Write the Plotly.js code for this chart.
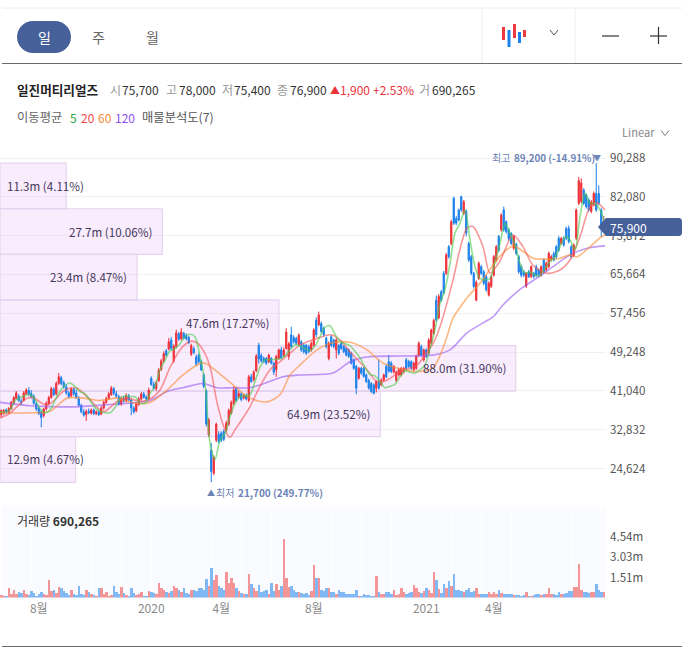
<!DOCTYPE html>
<html><head><meta charset="utf-8">
<script src="https://cdn.plot.ly/plotly-3.0.1.min.js"></script>
<style>html,body{margin:0;padding:0;background:#fff}#c{width:692px;height:649px}</style>
</head><body><div id="c"></div>
<script>
// Daily price, thousand won
const opens=[36.0,36.3,37.0,36.5,37.2,38.4,39.4,39.9,38.9,39.0,
40.4,41.1,40.5,39.9,38.3,37.4,36.6,35.8,37.2,38.3,
39.6,41.4,40.4,42.6,43.8,42.8,41.9,40.6,40.0,41.4,
40.6,39.4,38.0,36.6,36.0,36.7,36.3,37.0,36.2,36.6,
36.1,37.4,38.6,39.4,40.2,41.5,40.4,39.8,38.2,39.5,
38.9,40.0,39.1,37.4,36.8,38.1,39.3,40.4,39.7,39.4,
43.7,42.4,41.5,43.2,45.6,47.4,49.5,49.9,51.8,47.4,
50.4,53.1,52.0,53.2,52.7,52.3,48.8,50.0,48.2,48.6,
47.2,44.4,41.0,31.7,28.5,23.6,30.6,31.8,32.1,32.4,
32.6,34.0,36.3,38.4,41.6,39.8,40.4,39.6,40.0,39.0,
44.0,43.4,45.3,50.7,48.5,47.9,47.9,47.2,47.9,46.9,
45.5,47.9,49.7,48.5,50.0,48.3,52.9,52.3,52.1,50.8,
51.4,50.7,50.7,50.4,49.7,50.7,56.0,55.0,55.3,54.3,
52.2,47.9,52.5,51.8,49.7,50.7,51.1,50.4,50.0,49.7,
49.0,47.6,46.2,43.7,45.8,45.8,44.4,43.3,42.6,42.3,
41.6,43.0,42.3,43.3,46.2,47.2,46.9,45.0,43.3,44.4,
44.4,45.0,47.6,47.2,47.2,45.5,45.8,48.6,50.4,47.6,
49.7,49.0,51.1,53.2,60.2,56.5,62.0,65.9,65.9,71.5,
72.2,81.8,77.5,79.3,82.1,78.6,79.0,72.2,69.4,65.9,
60.2,64.8,67.3,66.2,65.2,61.3,63.1,65.5,68.7,73.7,
75.1,79.3,76.8,75.1,74.3,71.2,72.0,69.4,67.3,66.2,
63.2,66.2,65.2,65.9,67.3,66.6,65.5,68.7,66.6,67.3,
68.7,70.1,71.5,73.3,72.2,73.3,75.4,75.4,71.5,69.7,
73.3,80.7,81.1,83.5,82.5,81.4,79.0,80.4,82.8,82.8,
79.3,75.7];
const closes=[36.9,36.9,36.4,37.3,38.6,39.6,40.6,39.0,38.5,40.6,
41.2,40.3,39.8,38.4,37.2,36.2,35.4,37.2,38.4,39.6,
41.5,40.2,42.6,44.0,42.6,41.9,40.6,39.8,41.4,40.4,
39.6,38.0,36.6,35.9,36.7,36.4,37.0,36.2,36.6,36.0,
37.4,38.6,39.4,40.4,41.6,40.5,39.9,38.2,39.5,38.9,
40.0,39.1,37.4,36.6,38.2,39.3,40.4,39.7,39.3,41.2,
42.4,41.6,42.8,45.4,47.4,48.9,48.6,51.4,50.0,50.5,
53.3,52.0,53.5,52.2,52.1,51.2,50.6,49.1,46.7,47.2,
45.5,42.0,34.0,34.9,24.0,27.0,34.0,30.3,30.6,30.8,
34.2,36.9,38.6,41.2,39.0,40.5,39.2,40.0,39.3,44.0,
43.0,45.0,48.4,47.8,47.4,47.2,46.9,48.6,46.9,45.0,
48.3,49.7,48.0,49.7,53.5,51.0,50.4,51.4,51.1,52.8,
49.7,49.3,49.0,49.3,51.1,53.9,52.9,57.1,53.6,52.9,
50.4,51.1,50.7,50.4,51.8,49.0,50.0,49.3,48.6,48.3,
46.9,45.8,41.6,45.8,44.8,44.1,43.0,41.6,40.9,40.5,
43.0,41.6,43.3,44.4,44.0,45.2,45.1,46.2,45.0,45.5,
45.8,45.8,45.8,46.2,45.8,46.9,48.3,51.1,48.6,49.7,
48.3,51.8,53.9,55.9,56.0,61.0,60.2,61.8,69.8,69.4,
76.8,76.5,76.5,77.2,79.3,81.0,74.4,68.7,65.9,63.1,
64.0,68.0,65.9,63.8,62.4,63.8,65.2,69.4,71.5,70.8,
78.2,75.1,74.7,73.2,72.2,73.7,70.1,66.2,65.5,65.5,
65.9,65.2,67.3,65.2,65.5,65.5,67.3,66.2,68.0,70.1,
69.4,68.7,69.4,70.8,73.3,71.9,73.3,72.6,69.4,71.9,
79.3,85.5,85.0,80.7,80.0,79.3,81.0,82.8,79.3,80.7,
75.8,76.9];
const highs=[37.1,37.2,37.3,37.6,38.9,39.9,41.0,40.3,39.4,41.0,
41.6,41.8,41.2,40.3,38.7,37.8,37.0,37.5,38.8,40.0,
41.9,41.8,43.0,44.8,44.2,43.2,42.4,41.0,41.8,41.7,
41.3,39.9,38.3,37.2,37.1,37.3,37.3,37.3,36.9,36.9,
37.8,38.9,39.8,40.8,42.1,41.9,41.0,40.2,39.9,39.9,
40.5,40.4,39.4,37.8,38.6,39.8,40.8,40.8,40.1,41.7,
44.1,43.0,43.2,45.9,47.8,49.4,49.9,52.2,52.4,50.9,
54.0,53.5,54.3,53.5,53.2,52.7,51.0,50.4,48.7,49.0,
47.6,44.8,41.4,35.3,30.0,27.4,34.3,32.5,32.5,32.9,
34.7,37.3,39.0,42.0,41.9,41.0,40.8,40.4,40.5,44.4,
44.6,45.4,48.8,51.2,49.0,48.3,48.2,48.9,48.2,47.2,
48.7,50.0,50.3,50.2,54.3,51.4,54.6,52.8,52.5,53.2,
51.8,51.1,51.0,50.8,51.5,54.3,56.6,57.8,55.7,54.6,
52.5,51.5,52.8,52.1,52.2,51.0,51.4,50.7,50.3,50.0,
49.3,47.9,46.5,46.1,46.1,46.1,44.7,43.6,42.9,42.6,
43.3,47.7,43.7,44.7,46.6,48.6,47.3,46.5,45.3,45.9,
46.1,46.1,48.0,47.6,47.5,47.2,48.7,51.5,50.8,50.0,
50.0,52.2,54.2,56.3,61.2,61.5,62.4,66.4,70.2,71.9,
77.2,82.1,78.0,79.6,82.3,81.4,79.4,72.6,69.8,66.2,
64.4,68.4,67.7,66.6,65.6,64.2,65.6,69.8,71.9,74.0,
78.6,80.0,77.1,75.5,74.6,74.0,72.4,69.8,67.7,66.6,
66.2,66.6,67.6,66.2,67.7,66.9,67.6,69.0,68.4,70.5,
69.8,70.5,71.9,73.8,73.6,73.7,75.8,76.0,71.9,72.2,
79.6,86.3,86.0,83.9,82.8,81.8,81.4,83.2,89.2,84.5,
79.7,78.0];
const lows=[35.4,36.0,36.2,36.2,37.0,38.1,39.2,38.7,38.0,38.8,
40.2,40.0,39.4,38.1,36.8,35.9,33.3,35.4,36.9,38.0,
39.4,39.9,40.1,42.3,42.2,41.5,40.2,39.4,39.7,40.0,
39.3,37.7,36.3,35.6,34.7,36.1,36.0,35.9,35.9,35.7,
35.9,37.1,38.3,39.1,40.0,40.1,39.5,37.9,37.9,38.5,
38.6,38.9,35.9,36.2,36.5,37.9,39.0,39.4,39.0,39.0,
42.1,41.2,41.0,42.9,45.2,47.0,48.2,49.6,49.6,46.9,
50.0,51.6,51.7,51.9,51.7,50.9,48.4,48.8,46.3,46.8,
45.2,41.6,33.5,31.3,21.7,23.2,30.2,29.9,30.2,30.4,
32.3,33.6,36.0,38.0,38.7,39.4,38.8,39.2,39.0,38.6,
42.7,43.0,45.0,46.8,47.0,46.9,46.5,46.9,46.6,44.4,
44.0,47.6,47.7,48.2,49.8,47.6,50.0,51.0,50.8,50.5,
49.3,48.9,48.6,49.0,49.3,50.4,52.4,54.7,53.2,52.5,
50.0,47.5,50.3,50.0,47.9,48.6,49.7,49.0,48.3,48.0,
46.6,45.5,40.3,43.4,44.4,43.8,42.7,41.3,40.6,40.3,
40.7,41.3,42.0,43.0,43.7,44.9,44.8,44.7,42.9,44.1,
44.1,44.7,45.5,45.9,45.5,45.2,45.5,48.3,48.3,47.2,
48.0,48.7,50.8,52.9,55.6,56.2,59.8,61.4,65.5,69.0,
71.8,76.1,76.1,76.9,78.9,78.2,73.7,68.3,65.5,62.7,
60.0,64.5,65.5,63.4,62.0,61.0,62.8,65.2,68.3,70.4,
74.7,74.7,74.3,72.8,71.9,70.8,69.7,65.8,65.0,65.1,
62.8,64.9,64.9,64.8,65.1,65.1,65.2,65.9,66.3,67.0,
68.4,68.4,69.0,70.4,71.9,71.5,72.9,72.2,69.0,69.3,
72.9,80.3,80.7,80.3,79.6,78.9,78.6,80.0,78.9,80.3,
73.6,75.4];
// Volume, millions
const volumes=[.2,.15,.12,.7,.3,.6,.3,.4,.35,.55,
.25,.18,.5,.35,.15,.3,.42,.25,.2,1.3,
.5,.55,.35,.8,.7,.5,.35,.2,.55,.3,
.2,.9,.25,.2,.55,.4,.25,.18,.15,.7,
.7,.3,.4,.15,.2,.85,.45,.3,.8,.35,
.2,.15,.75,.35,.2,.3,.42,.15,.1,.5,
.45,.35,.25,1.1,.75,.55,.4,.35,.5,.85,
.75,.55,.45,.7,.35,.3,.55,.6,.5,.7,
.7,.55,1.4,.9,2.2,1.3,1.7,.9,.7,.6,
1.9,1.1,1.5,1.1,.7,.5,.35,.3,.3,1.8,
1.0,.75,.5,.95,.4,.5,.6,.3,1.1,.5,
1.05,.6,.85,4.45,1.5,.8,.85,.6,.45,.4,
.35,.3,.35,.2,.5,2.45,1.5,1.5,.6,.5,
.7,.7,.4,.45,.25,.6,.4,.4,.25,.3,
.25,.3,.55,.15,.1,.25,.2,.2,.15,.15,
1.6,.4,.3,.3,.45,.4,.3,.6,.2,.25,
.7,.4,.3,.35,.4,.95,.7,.4,.35,.5,
.75,.55,.35,1.9,1.3,.65,.35,1.0,.75,1.25,
.9,1.8,.6,.55,.5,.45,.6,.75,.4,.5,
.75,.3,.25,.25,.3,.4,.25,.4,.3,.6,
.35,.3,.25,.25,.3,.2,.2,.2,.15,.2,
.4,.15,.15,.2,.25,.25,.2,.25,.3,.7,
.25,.25,.2,.45,.3,.25,.35,.5,.5,.8,
.8,2.5,.6,.45,.4,.35,.4,.45,1.0,.55,
.4,.45];
// Moving averages: 5-day sampled every second session
const ma5=[36.6,36.6,37,39,39.6,40,40.3,39.2,37.3,36.4,37,39,41,42.2,42.7,42,40.9,40.4,39,37.5,36.7,36.4,36.4,37.5,39.4,40,39.8,39.8,38.5,38.4,
40.5,42,45.5,47.5,49.5,50,51,52.5,53,52.5,48.3,42.6,30,26.5,30.6,32,35.6,38.4,39.8,40,40.2,43,46,47.6,47.6,47.7,47.8,48.5,49.7,50.8,
50.5,50,49.5,50.5,52.5,54.5,54.8,53,51.5,51,50.6,49.4,48,46,44.5,44.2,43,41.7,42,42.4,44,45.3,45,44.8,45.5,46.5,50,54,59.5,
62.4,68,74.4,76.5,79.3,73,67.3,64.8,64.5,64.8,68.3,72.2,76.5,74.4,71.9,68,
65.9,66.2,65.5,65.5,67,68.4,69.4,71.5,73.6,73,70.8,77.9,82.8,80.7,80.7,79.3,76.5];
const ma20Session=[-.5,3.5,6.3,10.3,12.7,16.3,18.3,20.7,24.7,27.5,30.3,34.3,39.5,41.5,46.3,50.3,55.5,59.5,63.5,67.5,71.5,75.5,78.3,80.7,83.5,86.3,89.5,91.5,93.5,96.7,99.5,103.5,107.5,111.5,115.5,119.5,125.5,131.9,135.5,139.5,146.3,150.3,154.3,159.5,166.3,170.3,172.7,175.5,180.7,183.5,186.3,188.7,192.7,195.5,199.5,204.7,208.7,212.7,218.3,223.5,227.5,231.5,235.5,238.3,241.5];
const ma20=[35.3,36.3,37.7,39.5,39.6,38.4,38,38.8,40.9,41.6,41.6,39.85,37,36.7,38.8,39.5,38.8,39.3,41.2,46,49.7,51.5,51.2,49.7,46.2,38.6,32.8,31.2,32.8,35.3,37.7,42,45.5,47.2,49,50.7,52,52.9,51.8,49.3,45.5,43,43.3,45.1,46.5,49.2,51,54.6,64.5,71,75.5,75.8,71.5,65.9,68.5,74,71.5,67.6,65.9,66.6,68.7,73.6,80,80.8,79.3];
const ma60Session=[-.5,12.7,19.5,26.3,32.7,39.5,46.3,52.7,59.5,66.3,72.7,80.7,86.3,92.7,99.5,106.3,111.5,115.5,119.5,126.3,132.7,139.5,146.3,152.7,159.5,166.3,172.7,175.5,178.3,180.7,186.3,191.5,196.7,200.7,204.7,207.5,212.7,216.7,223.5,227.5,230.3,235.5,239.5,241.5];
const ma60=[36.4,36.4,36.7,39.5,39.5,39,39.5,38.5,38.6,41.2,44.4,47,45.1,42.3,39.5,38.7,40.2,44.4,46.5,49.7,51.2,51.3,49.7,46.9,45.7,45.1,45.9,48.5,52.5,56.4,60.7,63.8,67.6,70.2,71.7,71,69.1,68.9,69.1,69.8,69.4,71.5,73.4,74];
const ma120Session=[-.5,11.5,19.5,31.5,39.5,59.5,66.3,72.7,80.7,86.3,92.7,99.5,106.3,112.7,119.5,132.7,139.5,146.3,159.5,172.7,179.5,186.3,192.7,196.7,200.7,207.5,214.3,220.7,227.5,234.3,241.5];
const ma120=[38.6,37.9,37.7,37.7,38,39,40.9,41.7,42.6,41.7,41.7,41.7,42.8,44,44.4,44.8,47.2,48.2,48.4,48.6,49.7,53.3,55.4,56.7,59.2,62.5,64.9,67.3,69.8,71.2,71.7];
// Volume-at-price profile
const profilePrice=[84.38,74.73,65.09,55.45,45.8,36.16,26.52];
const profileVol=[11.3,27.7,23.4,47.6,88.0,64.9,12.9];
const profileLabels=['11.3m (4.11%)','27.7m (10.06%)','23.4m (8.47%)','47.6m (17.27%)','88.0m (31.90%)','64.9m (23.52%)','12.9m (4.67%)'];
const priceTicks=[90.288,82.08,73.872,65.664,57.456,49.248,41.04,32.832,24.624];
const priceTickText=['90,288','82,080','73,872','65,664','57,456','49,248','41,040','32,832','24,624'];
const volTicks=[1.51,3.03,4.54];
const volTickText=['1.51m','3.03m','4.54m'];
const timeTicks=[15,60,88,125,170,197];
const timeTickText=['8월','2020','4월','8월','2021','4월'];

const W=692,H=649,F='"Noto Sans CJK KR","Noto Sans",sans-serif';
const session=closes.map((_,i)=>i);
const PX=x=>x/W, PY=y=>1-y/H;
const domX=[0,606/W];
const maLine=(name,x,y,color)=>({type:'scatter',mode:'lines',name,x,y,xaxis:'x2',yaxis:'y',
  line:{color,width:1.6,shape:'spline',smoothing:0.8},opacity:0.62,hoverinfo:'skip'});
const traces=[
 {type:'bar',orientation:'h',x:profileVol,y:profilePrice,width:9.643,xaxis:'x',yaxis:'y',
  marker:{color:'rgba(208,130,240,0.15)',line:{color:'#e6d4ef',width:1.2}},hoverinfo:'skip'},
 {type:'candlestick',x:session,open:opens,high:highs,low:lows,close:closes,xaxis:'x2',yaxis:'y',
  whiskerwidth:0,
  increasing:{line:{color:'#ee2f38',width:1},fillcolor:'#ee2f38'},
  decreasing:{line:{color:'#1b80ea',width:1},fillcolor:'#1b80ea'},hoverinfo:'skip'},
 maLine('MA120',ma120Session,ma120,'#9a5cf0'),
 maLine('MA60',ma60Session,ma60,'#fb8c32'),
 maLine('MA20',ma20Session,ma20,'#f5585a'),
 maLine('MA5',ma5.map((_,k)=>k*2-0.5),ma5,'#4ecb4e'),
 {type:'bar',x:session,y:volumes,xaxis:'x3',yaxis:'y2',
  marker:{color:closes.map((c,i)=>c>=opens[i]?'#f39597':'#80b8f6'),line:{width:0}},hoverinfo:'skip'}
];
const rect=(x0,y0,x1,y1,fill,layer)=>({type:'rect',xref:'paper',yref:'paper',x0:PX(x0),x1:PX(x1),y0:PY(y0),y1:PY(y1),fillcolor:fill,line:{width:0},layer:layer||'below'});
const seg=(x0,y0,x1,y1,color,w)=>({type:'line',xref:'paper',yref:'paper',x0:PX(x0),x1:PX(x1),y0:PY(y0),y1:PY(y1),line:{color,width:w||1},layer:'above'});
const P=(x,y)=>PX(x)+','+PY(y);
const pathShape=(d,fill,layer)=>({type:'path',xref:'paper',yref:'paper',path:d,fillcolor:fill,line:{width:0},layer:layer||'above'});
const rr=(x0,y0,x1,y1,r)=>{const k=r*0.45;return 'M'+P(x0+r,y0)+' L'+P(x1-r,y0)+' C'+P(x1-k,y0)+' '+P(x1,y0+k)+' '+P(x1,y0+r)+' L'+P(x1,y1-r)+' C'+P(x1,y1-k)+' '+P(x1-k,y1)+' '+P(x1-r,y1)+' L'+P(x0+r,y1)+' C'+P(x0+k,y1)+' '+P(x0,y1-k)+' '+P(x0,y1-r)+' L'+P(x0,y0+r)+' C'+P(x0,y0+k)+' '+P(x0+k,y0)+' '+P(x0+r,y0)+' Z';};
const chev=(cx,cy,s,color)=>[seg(cx-s,cy-s/1.6,cx,cy+s/1.6,color,1),seg(cx,cy+s/1.6,cx+s,cy-s/1.6,color,1)];
const shapes=[
 rect(2,507,606,598,'#f9fbff'),
 seg(2,8,682,8,'#ececec',1),
 seg(2,63.5,682,63.5,'#656c74',1.2),
 seg(2,646.5,682,646.5,'#656c74',1.2),
 seg(482,9,482,63,'#eeeeee',1),
 seg(575,9,575,63,'#eeeeee',1),
 pathShape(rr(17,21,71,53,16),'#46609a'),
 rect(502,27,505,40,'#ee3a3f','above'),
 rect(507.5,30,510.5,47,'#1b80ea','above'),
 rect(513,24,516,38,'#ee3a3f','above'),
 rect(518,32,521,43,'#1b80ea','above'),
 rect(523,30,526,37,'#ee3a3f','above'),
 ...chev(554,32.5,4,'#555'),
 seg(602,36,619,36,'#333',1.2),
 seg(650,36,667,36,'#333',1.2),
 seg(658.5,27,658.5,44,'#333',1.2),
 ...chev(665,133,4,'#777'),
 pathShape('M'+P(598,227)+' L'+P(606,218)+' L'+P(678,218)+' C'+P(681,218)+' '+P(682,219)+' '+P(682,222)+' L'+P(682,232)+' C'+P(682,235)+' '+P(681,236)+' '+P(678,236)+' L'+P(606,236)+' Z','#46609a')
];
const T=(x,y,text,color,size,anchor,extra)=>Object.assign({xref:'paper',yref:'paper',x:PX(x),y:PY(y),text,showarrow:false,xanchor:anchor||'left',yanchor:'middle',align:'left',
  font:{family:F,size:size||12,color:color||'#333'}},extra||{});
const ann=[
 T(44,37,'일','#fff',14,'center'),T(98,37,'주','#666',14,'center'),T(152,37,'월','#666',14,'center'),
 T(15,89,'<b>일진머티리얼즈</b>','#222',12.6),
 T(108,89,'시','#999',12),T(120,89,'75,700','#333',12),
 T(164,89,'고','#999',12),T(177,89,'78,000','#333',12),
 T(220,89,'저','#999',12),T(232,89,'75,400','#333',12),
 T(275,89,'종','#999',12),T(288,89,'76,900','#333',12),
 T(328,89,'▲','#e8323a',10),T(338,89,'1,900','#e8323a',12),T(371,89,'+2.53%','#e8323a',12),
 T(417,89,'거','#999',12),T(430,89,'690,265','#333',12),
 T(15,117,'이동평균','#666',12.3),T(68,117,'5','#22a83a',12),T(79,117,'20','#f4474a',12),T(96,117,'60','#f78a36',12),T(113,117,'120','#8d4df0',12),
 T(140,117,'매물분석도(7)','#555',12.3),
 T(620,132,'Linear','#888',11.2),
 T(490,158,'최고','#6d83b6',10),T(512,158,'<b>89,200 (-14.91%)</b>','#6d83b6',9.8),T(591,157.5,'▼','#6d83b6',8),
 T(205,492,'▲','#6d83b6',8),T(214,492,'최저','#6d83b6',10),T(236,492,'<b>21,700 (249.77%)</b>','#6d83b6',10),
 T(15,520,'거래량 <b>690,265</b>','#333',12),
 T(608,227,'75,900','#fff',12)
];
const profileMinLeft=[true,false,false,false,false,false,true];
profileVol.forEach((v,i)=>{
  const base={yref:'y',y:profilePrice[i],text:profileLabels[i],showarrow:false,yanchor:'middle',font:{family:F,size:11.6,color:'#45365c'}};
  if(profileMinLeft[i]) ann.push(Object.assign(base,{xref:'paper',x:PX(5),xanchor:'left'}));
  else ann.push(Object.assign(base,{xref:'x',x:v,xshift:-8,xanchor:'right'}));
});
const layout={width:W,height:H,margin:{l:0,r:0,t:0,b:0},paper_bgcolor:'#fff',plot_bgcolor:'rgba(0,0,0,0)',showlegend:false,
 barmode:'overlay',bargap:0,font:{family:F,size:12},
 xaxis:{domain:domX,range:[0,606/5.86],visible:false,fixedrange:true,anchor:'y'},
 xaxis2:{domain:domX,range:[-0.5,241.9],overlaying:'x',visible:false,fixedrange:true,anchor:'y',rangeslider:{visible:false}},
 xaxis3:{domain:domX,range:[-0.5,241.9],anchor:'y2',tickmode:'array',tickvals:timeTicks,ticktext:timeTickText,
   tickfont:{family:F,size:12,color:'#8a8a8a'},ticks:'',showgrid:false,zeroline:false,showline:false,fixedrange:true,ticklabelstandoff:2,
   minor:{dtick:12,showgrid:true,gridcolor:'#ffffff',gridwidth:1.5,ticks:''}},
 yaxis:{domain:[PY(500),PY(150)],range:[17.95,91.98],side:'right',anchor:'x',tickmode:'array',tickvals:priceTicks,ticktext:priceTickText,
   tickfont:{family:F,size:11.6,color:'#555'},gridcolor:'#f1f1f1',gridwidth:1,zeroline:false,showline:false,ticks:'',fixedrange:true,ticklabelstandoff:3},
 yaxis2:{domain:[PY(597.5),PY(507)],range:[0,6.83],side:'right',anchor:'x3',tickmode:'array',tickvals:volTicks,ticktext:volTickText,
   tickfont:{family:F,size:11.6,color:'#555'},showgrid:false,zeroline:false,showline:false,ticks:'',fixedrange:true,ticklabelstandoff:3},
 shapes,annotations:ann
};
Plotly.newPlot('c',traces,layout,{staticPlot:true,displayModeBar:false});
</script></body></html>
